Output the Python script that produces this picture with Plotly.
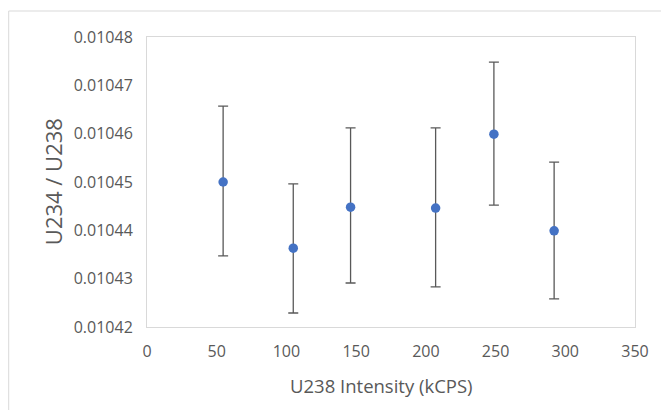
import plotly.graph_objects as go

# Data
intensity_kcps = [54.6, 104.9, 146.0, 207.0, 248.8, 292.0]
ratio_u234_u238 = [0.010450, 0.0104363, 0.0104448, 0.0104446, 0.0104599, 0.0104399]
err_plus = [0.0000157, 0.0000133, 0.0000164, 0.0000166, 0.0000149, 0.0000142]
err_minus = [0.0000153, 0.0000134, 0.0000157, 0.0000163, 0.0000147, 0.0000141]
y_ticks = [0.01042, 0.01043, 0.01044, 0.01045, 0.01046, 0.01047, 0.01048]
x_ticks = [0, 50, 100, 150, 200, 250, 300, 350]

W, H = 661, 410
L, R, T, B = 147, 20, 37, 83
pw, ph = W - L - R, H - T - B

grey = "#595959"
font_family = "Open Sans"

fig = go.Figure()
fig.add_trace(go.Scatter(
    x=intensity_kcps, y=ratio_u234_u238, mode="markers",
    marker=dict(color="#4472C4", size=9.5),
    error_y=dict(type="data", symmetric=False, array=err_plus, arrayminus=err_minus,
                 color="#595959", thickness=1.3, width=5),
    showlegend=False,
))

fig.update_layout(
    width=W, height=H,
    margin=dict(l=L, r=R, t=T, b=B),
    paper_bgcolor="white", plot_bgcolor="white",
    font=dict(family=font_family, color=grey, size=16),
    xaxis=dict(range=[0, 350], tickvals=x_ticks, ticktext=[str(v) for v in x_ticks],
               showgrid=False, zeroline=False, showline=True, mirror=True,
               linecolor="#d9d9d9", linewidth=1, ticks="", ticklabelstandoff=10,
               tickfont=dict(size=16, color=grey, family=font_family)),
    yaxis=dict(range=[0.01042, 0.01048], tickvals=y_ticks,
               ticktext=[f"{v:.5f}" for v in y_ticks],
               showgrid=False, zeroline=False, showline=True, mirror=True,
               linecolor="#d9d9d9", linewidth=1, ticks="", ticklabelstandoff=10,
               tickfont=dict(size=16, color=grey, family=font_family)),
    annotations=[
        dict(text="U234 / U238", xref="paper", yref="paper",
             x=(52 - L) / pw, y=0.5, xanchor="center", yanchor="middle",
             textangle=-90, showarrow=False,
             font=dict(size=22, color=grey, family=font_family)),
        dict(text="U238 Intensity (kCPS)", xref="paper", yref="paper",
             x=(384 - L) / pw, y=(T + ph - 385) / ph, xanchor="center", yanchor="middle",
             showarrow=False, font=dict(size=18.5, color=grey, family=font_family)),
    ],
    shapes=[
        dict(type="rect", xref="paper", yref="paper",
             x0=(7 - L) / pw, x1=(W + 20 - L) / pw,
             y0=(T + ph - (H + 20)) / ph, y1=(T + ph - 11) / ph,
             line=dict(color="#d9d9d9", width=1), fillcolor="rgba(0,0,0,0)", layer="below"),
    ],
)

fig.write_html("out.html")
